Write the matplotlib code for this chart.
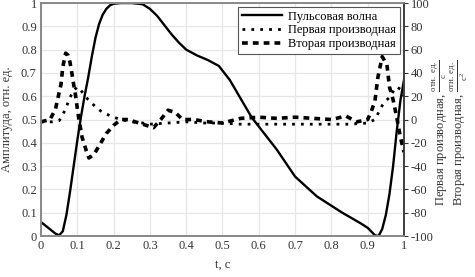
import matplotlib
matplotlib.use("Agg")
import matplotlib.pyplot as plt

plt.rcParams["font.family"] = ["Liberation Serif", "DejaVu Serif"]
plt.rcParams["mathtext.fontset"] = "custom"
plt.rcParams["mathtext.rm"] = "Liberation Serif"
plt.rcParams["mathtext.it"] = "Liberation Serif:italic"

# Pulse wave (amplitude, rel. units)
t_pulse = [0, 0.02, 0.04, 0.05, 0.06, 0.07, 0.08, 0.09, 0.1, 0.11, 0.12, 0.13,
           0.14, 0.15, 0.16, 0.17, 0.18, 0.19, 0.2, 0.22, 0.25, 0.28, 0.3, 0.32,
           0.34, 0.36, 0.38, 0.4, 0.43, 0.46, 0.49, 0.52, 0.55, 0.58, 0.6, 0.65,
           0.7, 0.76, 0.83, 0.88, 0.9, 0.92, 0.93, 0.94, 0.95, 0.96, 0.97, 0.98,
           0.99, 1.0]
pulse = [0.06, 0.035, 0.01, 0.003, 0.02, 0.09, 0.19, 0.30, 0.41, 0.51, 0.60,
         0.68, 0.77, 0.85, 0.91, 0.95, 0.975, 0.99, 0.997, 1.0, 1.0, 0.995,
         0.975, 0.945, 0.905, 0.865, 0.83, 0.80, 0.775, 0.755, 0.73, 0.67,
         0.59, 0.51, 0.47, 0.37, 0.255, 0.17, 0.10, 0.055, 0.035, 0.003, 0.0,
         0.03, 0.09, 0.18, 0.30, 0.45, 0.58, 0.67]

# First derivative
t_d1 = [0, 0.03, 0.05, 0.06, 0.07, 0.08, 0.09, 0.1, 0.11, 0.12, 0.13, 0.15,
        0.17, 0.2, 0.22, 0.25, 0.28, 0.3, 0.35, 0.4, 0.45, 0.5, 0.55, 0.6, 0.65,
        0.7, 0.75, 0.8, 0.85, 0.9, 0.92, 0.93, 0.94, 0.95, 0.96, 0.97, 0.98,
        0.99, 1.0]
d1 = [-2, -2, -1, 4, 11, 19, 25, 28, 25, 21, 17, 11, 6, 2, 0, -2, -3, -4, -3,
      -2, -3, -3, -4, -4, -4, -4, -4, -4, -4, -3, 0, 6, 12, 16, 19, 24, 28, 26,
      20]

# Second derivative
t_d2 = [0, 0.025, 0.04, 0.047, 0.055, 0.06, 0.068, 0.075, 0.08, 0.085, 0.09,
        0.095, 0.102, 0.113, 0.125, 0.132, 0.146, 0.163, 0.18, 0.2, 0.22, 0.24,
        0.27, 0.31, 0.33, 0.35, 0.37, 0.39, 0.42, 0.46, 0.5, 0.55, 0.6, 0.65,
        0.7, 0.75, 0.8, 0.84, 0.87, 0.9, 0.91, 0.92, 0.928, 0.94, 0.953, 0.96,
        0.97, 0.98, 0.99, 1.0]
d2 = [-2, 0, 9, 19, 30, 45, 57, 55, 49, 40, 30, 21, 5, -15, -27, -33, -30,
      -21, -12, -5, 0, 0, -3, -7, 0, 8, 6, 0, 0, -2, -3, 1, 2, 1, 2, 1, 0, 3,
      -2, 0, 7, 16, 36, 54, 47, 28, 17, 2, -15, -28]

x_ticks = [0, 0.1, 0.2, 0.3, 0.4, 0.5, 0.6, 0.7, 0.8, 0.9, 1]
x_labels = ["0", "0.1", "0.2", "0.3", "0.4", "0.5", "0.6", "0.7", "0.8", "0.9", "1"]
y_ticks = [0, 0.1, 0.2, 0.3, 0.4, 0.5, 0.6, 0.7, 0.8, 0.9, 1]
y_labels = ["0", "0.1", "0.2", "0.3", "0.4", "0.5", "0.6", "0.7", "0.8", "0.9", "1"]
r_ticks = [-100, -80, -60, -40, -20, 0, 20, 40, 60, 80, 100]

fig = plt.figure(figsize=(4.75, 2.77), dpi=100)
ax = fig.add_axes([0.0863, 0.148, 0.7642, 0.841])
ax2 = ax.twinx()

l1, = ax.plot(t_pulse, pulse, color="black", lw=1.7, label="Пульсовая волна")
l2, = ax2.plot(t_d1, d1, color="black", lw=2.0, linestyle=(0, (1, 2.2)),
               label="Первая производная")
l3, = ax2.plot(t_d2, d2, color="black", lw=2.6, linestyle=(0, (1.6, 1.4)),
               label="Вторая производная")

ax.set_xlim(0, 1)
ax.set_ylim(0, 1)
ax2.set_ylim(-100, 100)
ax.set_xticks(x_ticks, x_labels)
ax.set_yticks(y_ticks, y_labels)
ax2.set_yticks(r_ticks, [str(v) for v in r_ticks])
ax.grid(True, color="#e6e6e6", lw=0.9)
ax.set_axisbelow(True)

for a in (ax, ax2):
    a.tick_params(labelsize=9, colors="#333333", length=0, pad=3)
    for s in a.spines.values():
        s.set_color("#888888")
        s.set_linewidth(1.2)
ax2.tick_params(axis="y", length=3, width=0.8, pad=2, direction="out")
ax2.spines["right"].set_color("#333333")

ax.set_xlabel("t, с", fontsize=9, color="#333333", labelpad=5)
ax.set_ylabel("Амплитуда, отн. ед.", fontsize=9, color="#333333", labelpad=6)

fig.text(0.926, 0.52,
         r"Первая производная, $\frac{\mathrm{отн.\ ед.}}{\mathrm{с}}$",
         rotation=90, ha="center", va="center", fontsize=9, color="#333333")
fig.text(0.968, 0.52,
         r"Вторая производная, $\frac{\mathrm{отн.\ ед.}}{\mathrm{с}^2}$",
         rotation=90, ha="center", va="center", fontsize=9, color="#333333")

leg = ax2.legend(handles=[l1, l2, l3], loc="upper right", fontsize=9,
                 frameon=True, fancybox=False, framealpha=1, borderpad=0.3,
                 handlelength=3.2, labelspacing=0.15, handletextpad=0.5,
                 borderaxespad=0.3)
leg.get_frame().set_edgecolor("#555555")
leg.get_frame().set_linewidth(0.8)

fig.savefig("out.png", dpi=100)
